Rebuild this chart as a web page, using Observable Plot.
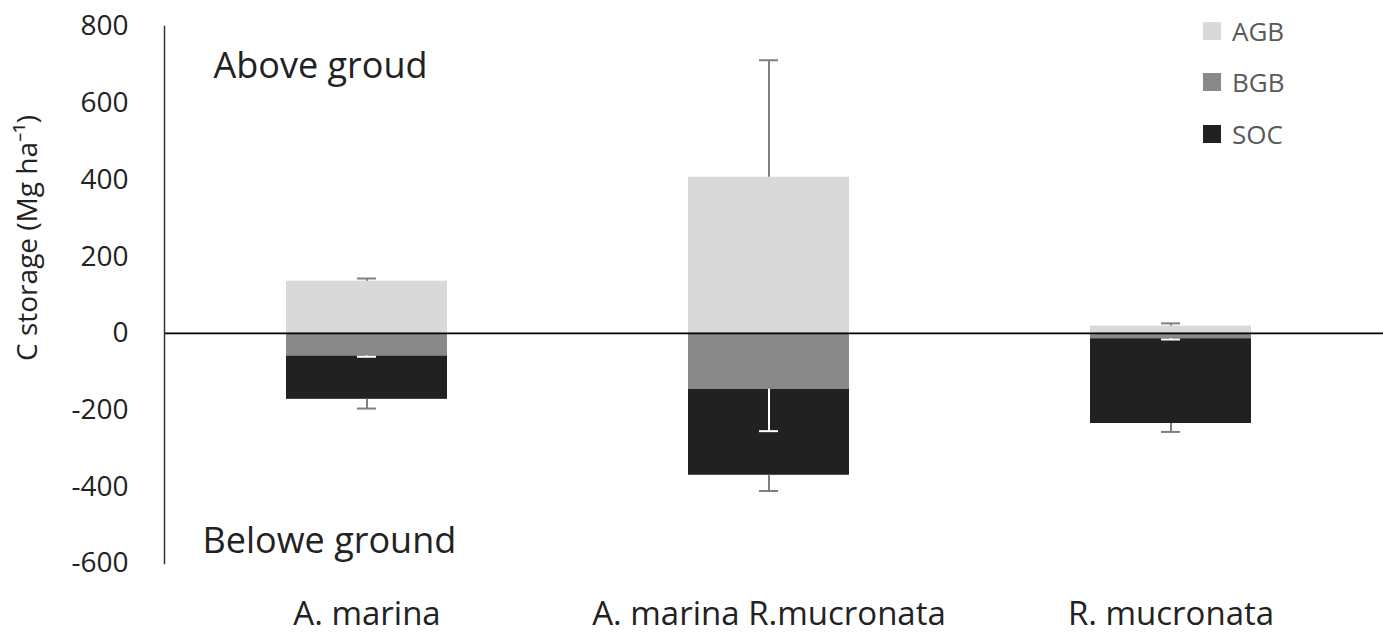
<!DOCTYPE html>
<html>
<head>
<meta charset="utf-8">
<script src="https://cdn.jsdelivr.net/npm/d3@7"></script>
<script src="https://cdn.jsdelivr.net/npm/@observablehq/plot@0.6"></script>
<style>
  body { margin: 0; background: #fff; }
  #wrap { position: relative; width: 1383px; height: 635px; font-family: "Open Sans", sans-serif; }
  #legend { position: absolute; left: 1203px; top: 5px; }
  .li { display: flex; align-items: center; height: 51.5px; margin: 0; }
  .sw { width: 18px; height: 18px; margin-right: 11px; }
  .lt { font-size: 26px; color: #595959; line-height: 1; }
</style>
</head>
<body>
<div id="wrap"><div id="legend"></div></div>
<script>
const categories = ["A. marina", "A. marina R.mucronata", "R. mucronata"];
const components = ["AGB", "BGB", "SOC"];
const colors = ["#d9d9d9", "#898989", "#212121"];
const errColors = ["#7f7f7f", "#ffffff", "#7f7f7f"];
// above ground (positive) and below ground (negative), Mg ha-1
const agb = [136, 407, 19];
const bgb = [-59, -146, -14];
const soc = [-113, -224, -221];
const agbErr = [7, 305, 7];
const bgbErr = [2, 109, 2];
const socErr = [24, 41, 22];
const yTicks = [-600, -400, -200, 0, 200, 400, 600, 800];

const rows = [];
categories.forEach((c, i) => {
  rows.push({category: c, component: "AGB", value: agb[i]});
  rows.push({category: c, component: "BGB", value: bgb[i]});
  rows.push({category: c, component: "SOC", value: soc[i]});
});
const errs = [];
categories.forEach((c, i) => {
  errs.push({category: c, comp: "AGB", y1: agb[i], y2: agb[i] + agbErr[i]});
  errs.push({category: c, comp: "BGB", y1: bgb[i], y2: bgb[i] - bgbErr[i]});
  errs.push({category: c, comp: "SOC", y1: bgb[i] + soc[i], y2: bgb[i] + soc[i] - socErr[i]});
});
const errColor = d => errColors[components.indexOf(d.comp)];

const chart = Plot.plot({
  width: 1383,
  height: 635,
  marginLeft: 164,
  marginRight: 0,
  marginTop: 26,
  marginBottom: 72,
  style: {fontFamily: "'Open Sans', sans-serif", color: "#222", background: "#fff"},
  x: {type: "band", domain: categories, range: [164, 1372], paddingInner: 0.6, paddingOuter: 0.3, label: null},
  y: {domain: [-600, 800], label: null},
  color: {domain: components, range: colors},
  marks: [
    Plot.barY(rows, {x: "category", y: "value", fill: "component"}),
    Plot.ruleX(errs, {x: "category", y1: "y1", y2: "y2", stroke: errColor, strokeWidth: 2}),
    Plot.tickY(errs, {x: "category", y: "y2", stroke: errColor, strokeWidth: 2, inset: 71}),
    Plot.ruleY([0], {stroke: "#000", strokeWidth: 1.6}),
    Plot.frame({anchor: "left", stroke: "#333", strokeWidth: 1.5}),
    Plot.axisY({ticks: yTicks, tickSize: 0, tickPadding: 36, fontSize: 28, tickFormat: d => String(d), label: null}),
    Plot.axisX({tickSize: 0, tickPadding: 38, fontSize: 33, label: null}),
    Plot.text(["C storage (Mg ha⁻¹)"], {frameAnchor: "left", textAnchor: "middle", rotate: -90, dx: -136, dy: -57, fontSize: 28, fill: "#222"}),
    Plot.text(["Above groud"], {frameAnchor: "top-left", textAnchor: "start", lineAnchor: "bottom", dx: 49, dy: 51, fontSize: 36, fill: "#222"}),
    Plot.text(["Belowe ground"], {frameAnchor: "bottom-left", textAnchor: "start", lineAnchor: "bottom", dx: 38, dy: -11, fontSize: 36, fill: "#222"})
  ]
});
const wrap = document.getElementById("wrap");
wrap.insertBefore(chart, wrap.firstChild);

const legend = document.getElementById("legend");
components.forEach((c, i) => {
  const li = document.createElement("div");
  li.className = "li";
  li.innerHTML = `<div class="sw" style="background:${colors[i]}"></div><span class="lt">${c}</span>`;
  legend.appendChild(li);
});
</script>
</body>
</html>
